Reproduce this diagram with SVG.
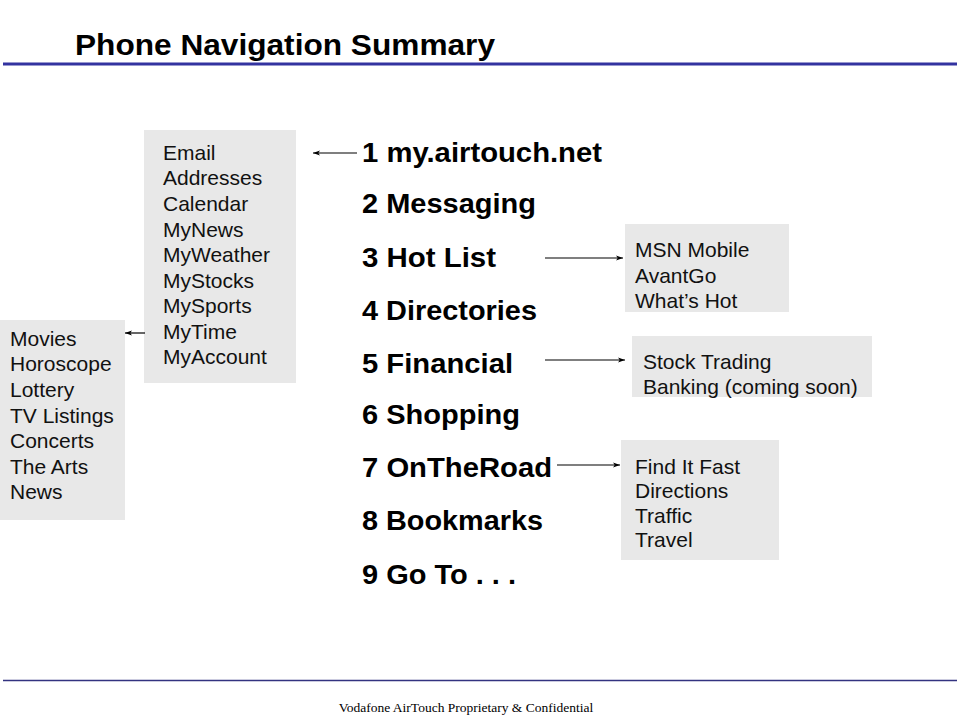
<svg xmlns="http://www.w3.org/2000/svg" width="960" height="720" viewBox="0 0 960 720">
<style>
.title{font-family:"Liberation Sans",Arial,sans-serif;font-weight:bold;font-size:30px;fill:#000}
.main{font-family:"Liberation Sans",Arial,sans-serif;font-weight:bold;font-size:28px;fill:#000}
.item{font-family:"Liberation Sans",Arial,sans-serif;font-size:21px;fill:#111}
.box{fill:#e8e8e8}
.conn{stroke:#000;stroke-width:1.2;fill:none;marker-end:url(#ah)}
.foot{font-family:"Liberation Serif","Times New Roman",serif;font-size:13.5px;fill:#000}
</style>
<defs>
<marker id="ah" viewBox="0 0 10 10" refX="10" refY="5" markerWidth="7" markerHeight="7" markerUnits="userSpaceOnUse" orient="auto">
<path d="M0,1.5 L10,5 L0,8.5 L2.5,5 Z" fill="#000"/>
</marker>
</defs>
<rect width="960" height="720" fill="#fff"/>
<g id="header">
<text class="title" x="75" y="55" textLength="420" lengthAdjust="spacingAndGlyphs">Phone Navigation Summary</text>
<line x1="3" y1="64" x2="957" y2="64" stroke="#3333a0" stroke-width="3"/>
</g>
<g id="menu">
<text class="main" x="362" y="162" textLength="240" lengthAdjust="spacingAndGlyphs">1 my.airtouch.net</text>
<text class="main" x="362" y="213" textLength="174" lengthAdjust="spacingAndGlyphs">2 Messaging</text>
<text class="main" x="362" y="267" textLength="134" lengthAdjust="spacingAndGlyphs">3 Hot List</text>
<text class="main" x="362" y="320" textLength="175" lengthAdjust="spacingAndGlyphs">4 Directories</text>
<text class="main" x="362" y="373" textLength="151" lengthAdjust="spacingAndGlyphs">5 Financial</text>
<text class="main" x="362" y="424" textLength="158" lengthAdjust="spacingAndGlyphs">6 Shopping</text>
<text class="main" x="362" y="477" textLength="190" lengthAdjust="spacingAndGlyphs">7 OnTheRoad</text>
<text class="main" x="362" y="530" textLength="181" lengthAdjust="spacingAndGlyphs">8 Bookmarks</text>
<text class="main" x="362" y="584" textLength="154" lengthAdjust="spacingAndGlyphs">9 Go To . . .</text>
</g>
<g id="myairtouch">
<rect class="box" x="144" y="130" width="152" height="253"/>
<text class="item" x="163" y="160">Email</text>
<text class="item" x="163" y="185">Addresses</text>
<text class="item" x="163" y="211">Calendar</text>
<text class="item" x="163" y="237">MyNews</text>
<text class="item" x="163" y="262">MyWeather</text>
<text class="item" x="163" y="288">MyStocks</text>
<text class="item" x="163" y="313">MySports</text>
<text class="item" x="163" y="339">MyTime</text>
<text class="item" x="163" y="364">MyAccount</text>
</g>
<g id="mynews">
<rect class="box" x="0" y="320" width="125" height="200"/>
<text class="item" x="10" y="346">Movies</text>
<text class="item" x="10" y="371">Horoscope</text>
<text class="item" x="10" y="397">Lottery</text>
<text class="item" x="10" y="423">TV Listings</text>
<text class="item" x="10" y="448">Concerts</text>
<text class="item" x="10" y="474">The Arts</text>
<text class="item" x="10" y="499">News</text>
</g>
<g id="hotlist">
<rect class="box" x="625" y="224" width="164" height="88"/>
<text class="item" x="635" y="257">MSN Mobile</text>
<text class="item" x="635" y="283">AvantGo</text>
<text class="item" x="635" y="308">What’s Hot</text>
</g>
<g id="financial">
<rect class="box" x="632" y="336" width="240" height="61"/>
<text class="item" x="643" y="369">Stock Trading</text>
<text class="item" x="643" y="394">Banking (coming soon)</text>
</g>
<g id="ontheroad">
<rect class="box" x="621" y="440" width="158" height="120"/>
<text class="item" x="635" y="474">Find It Fast</text>
<text class="item" x="635" y="498">Directions</text>
<text class="item" x="635" y="523">Traffic</text>
<text class="item" x="635" y="547">Travel</text>
</g>
<g id="connectors">
<line class="conn" x1="357" y1="153" x2="313" y2="153"/>
<line class="conn" x1="145" y1="333" x2="125" y2="333"/>
<line class="conn" x1="545" y1="258" x2="623" y2="258"/>
<line class="conn" x1="545" y1="360" x2="625" y2="360"/>
<line class="conn" x1="557" y1="465" x2="620" y2="465"/>
</g>
<g id="footer">
<line x1="3" y1="680.5" x2="957" y2="680.5" stroke="#333380" stroke-width="1.5"/>
<text class="foot" x="466" y="712" text-anchor="middle">Vodafone AirTouch Proprietary &amp; Confidential</text>
</g>
</svg>
